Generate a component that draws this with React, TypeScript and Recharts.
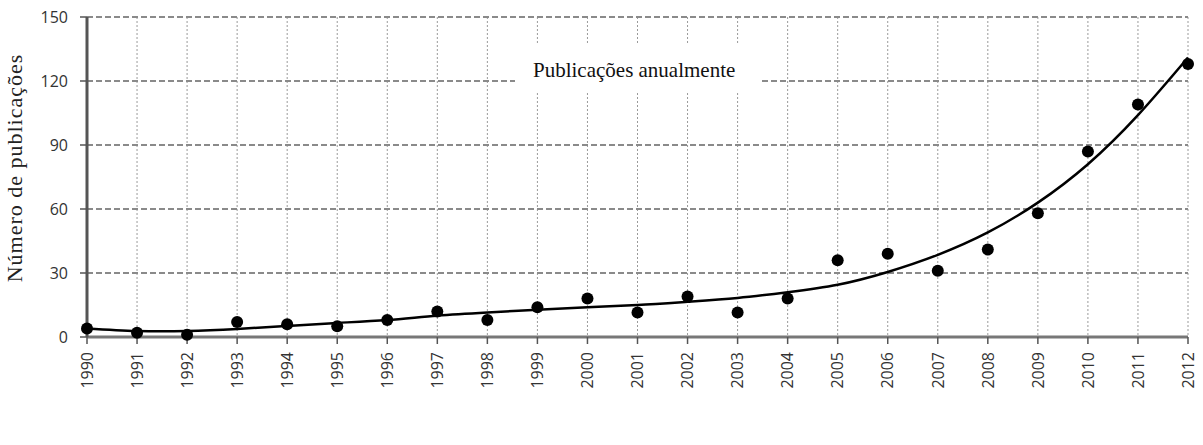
import React from "react";
import {
  ComposedChart,
  Line,
  Scatter,
  XAxis,
  YAxis,
  CartesianGrid,
} from "recharts";

const years = [
  1990, 1991, 1992, 1993, 1994, 1995, 1996, 1997, 1998, 1999, 2000, 2001,
  2002, 2003, 2004, 2005, 2006, 2007, 2008, 2009, 2010, 2011, 2012,
];
const publications = [
  4, 2, 1, 7, 6, 5, 8, 12, 8, 14, 18, 11.5, 19, 11.5, 18, 36, 39, 31, 41, 58,
  87, 109, 128,
];
const trend = [
  4, 2.8, 2.8, 3.8, 5.2, 6.6, 8, 10, 11.5, 12.8, 14, 15, 16.5, 18.3, 21, 24.5,
  30.5, 38.5, 49, 63, 81, 104, 131,
];
const yTicks = [0, 30, 60, 90, 120, 150];
const title = "Publicações anualmente";
const yLabel = "Número de publicações";

const data = years.map((y, i) => ({
  year: y,
  pubs: publications[i],
  trend: trend[i],
}));

const tickFont = "'Open Sans', 'DejaVu Sans', sans-serif";
const serif = "'Liberation Serif', 'DejaVu Serif', serif";

const XTick = (props: any) => {
  const { x, y, payload } = props;
  return (
    <text
      x={x}
      y={y}
      transform={`rotate(-90, ${x}, ${y})`}
      textAnchor="end"
      dy="0.36em"
      fontSize={16}
      fontFamily={tickFont}
      fill="#333"
    >
      {payload.value}
    </text>
  );
};

const Dot = (props: any) => {
  const { cx, cy } = props;
  if (cx == null || cy == null) return null;
  return <circle cx={cx} cy={cy} r={6} fill="#000" />;
};

const YLabel = (props: any) => {
  const vb = props.viewBox || { x: 0, y: 0, width: 0, height: 0 };
  const cx = 22;
  const cy = vb.y + vb.height / 2 - 9;
  return (
    <text
      x={cx}
      y={cy}
      transform={`rotate(-90, ${cx}, ${cy})`}
      textAnchor="middle"
      fontSize={22}
      letterSpacing={1}
      fontFamily={serif}
      fill="#222"
    >
      {yLabel}
    </text>
  );
};

export default function App() {
  return (
    <div
      style={{
        position: "absolute",
        left: 0,
        top: 0,
        width: 1203,
        height: 445,
        background: "#fff",
      }}
    >
      <ComposedChart
        width={1203}
        height={445}
        data={data}
        margin={{ top: 17, right: 15, bottom: 48, left: 0 }}
      >
        <CartesianGrid
          horizontal={false}
          vertical={true}
          stroke="#9a9a9a"
          strokeWidth={1}
          strokeDasharray="2 2"
        />
        <CartesianGrid
          horizontal={true}
          vertical={false}
          stroke="#8a8a8a"
          strokeWidth={2}
          strokeDasharray="6 3"
        />
        <XAxis
          dataKey="year"
          type="number"
          domain={[1990, 2012]}
          ticks={years}
          interval={0}
          height={60}
          tick={<XTick />}
          tickSize={7}
          tickMargin={8}
          axisLine={{ stroke: "#777", strokeWidth: 3 }}
          tickLine={{ stroke: "#555", strokeWidth: 1.5 }}
        />
        <YAxis
          type="number"
          domain={[0, 150]}
          ticks={yTicks}
          width={87}
          tickSize={7}
          tickMargin={12}
          tick={{ fontSize: 16, fontFamily: tickFont, fill: "#333" }}
          axisLine={{ stroke: "#555", strokeWidth: 3 }}
          tickLine={{ stroke: "#555", strokeWidth: 1.5 }}
          label={<YLabel />}
        />
        <Line
          dataKey="trend"
          type="natural"
          stroke="#000"
          strokeWidth={2.5}
          dot={false}
          isAnimationActive={false}
        />
        <Scatter
          dataKey="pubs"
          shape={<Dot />}
          fill="#000"
          isAnimationActive={false}
        />
      </ComposedChart>
      <div
        style={{
          position: "absolute",
          left: 515,
          top: 43,
          width: 247,
          height: 50,
          background: "#fff",
        }}
      >
        <div
          style={{
            position: "absolute",
            left: 18,
            top: 17,
            whiteSpace: "nowrap",
            fontFamily: serif,
            fontSize: 21,
            lineHeight: "21px",
            color: "#111",
          }}
        >
          {title}
        </div>
      </div>
    </div>
  );
}
